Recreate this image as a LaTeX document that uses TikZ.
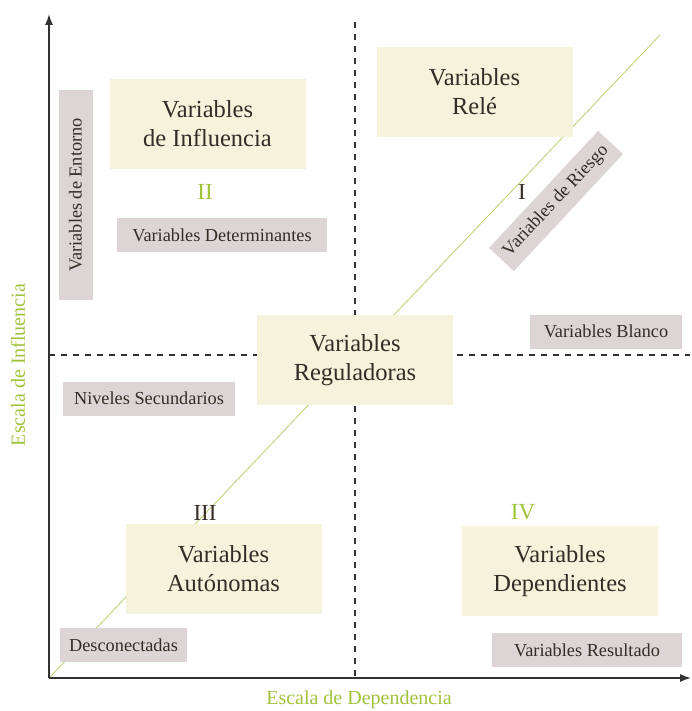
\documentclass[tikz,border=0pt]{standalone}
\usepackage{fontspec}
\setmainfont{Liberation Serif}
\usepackage{tikz}
\usetikzlibrary{backgrounds,arrows.meta}
\definecolor{xbeige}{RGB}{245,243,220}
\definecolor{xgray}{RGB}{221,213,213}
\definecolor{xgreen}{RGB}{160,195,60}
\definecolor{xline}{RGB}{185,208,110}
\definecolor{xtext}{RGB}{52,44,38}
\definecolor{xaxis}{RGB}{50,50,50}

\begin{document}
\begin{tikzpicture}[x=1pt, y=-1pt,
		bigbox/.style={rectangle, fill=xbeige, inner sep=0pt, minimum width=196pt, minimum height=90pt, align=center, text=xtext, font=\fontsize{24.5}{29}\selectfont},
		smallbox/.style={rectangle, fill=xgray, inner sep=0pt, minimum height=34pt, text=xtext, font=\fontsize{18.3}{22}\selectfont},
		numlabel/.style={font=\fontsize{23}{27}\selectfont},
		axislabel/.style={text=xgreen, font=\fontsize{20}{24}\selectfont}]
			\useasboundingbox (0,0) rectangle (691,711);
			\def \ox {49}
			\def \oy {678}
			\coordinate (orig) at (\ox, \oy);
			\coordinate (ytip) at (\ox, 14);
			\coordinate (xtip) at (691, \oy);
			\coordinate (diagend) at (660, 35);
			\coordinate (vtop) at (355, 22);
			\coordinate (vbot) at (355, \oy);
			\coordinate (hleft) at (\ox, 355);
			\coordinate (hright) at (690, 355);
			% cuadrantes
			\node[bigbox] at (207.5, 124) (influ) {Variables\\de Influencia};
			\node[bigbox] at (474.5, 92) (rele) {Variables\\Relé};
			\node[bigbox] at (355, 360) (regul) {Variables\\Reguladoras};
			\node[bigbox] at (223.5, 569) (auton) {Variables\\Autónomas};
			\node[bigbox] at (560, 571) (depen) {Variables\\Dependientes};
			% etiquetas grises
			\node[smallbox, minimum width=210pt, rotate=90] at (75.5, 195) (entorno) {Variables de Entorno};
			\node[smallbox, minimum width=210pt] at (222, 235) (determ) {Variables Determinantes};
			\node[smallbox, minimum width=160pt, rotate=47] at (556, 201) (riesgo) {Variables de Riesgo};
			\node[smallbox, minimum width=152pt] at (606, 331.5) (blanco) {Variables Blanco};
			\node[smallbox, minimum width=172pt] at (149, 398.5) (secund) {Niveles Secundarios};
			\node[smallbox, minimum width=127pt] at (123.5, 645) (descon) {Desconectadas};
			\node[smallbox, minimum width=190pt] at (587, 650) (result) {Variables Resultado};
			% numeros
			\node[numlabel, text=xgreen] at (205, 192) (qII) {II};
			\node[numlabel, text=xtext] at (522, 192) (qI) {I};
			\node[numlabel, text=xtext] at (205, 513) (qIII) {III};
			\node[numlabel, text=xgreen] at (523, 512) (qIV) {IV};
			% ejes
			\node[axislabel, rotate=90] at (18, 365) (ylab) {Escala de Influencia};
			\node[axislabel] at (359, 700) (xlab) {Escala de Dependencia};
			\begin{scope}[on background layer]
				\draw[xline, line width=0.8pt] (orig) -- (diagend);
				\draw[xaxis, dash pattern=on 6pt off 6pt, line width=1.1pt] (vtop) -- (vbot);
				\draw[xaxis, dash pattern=on 6pt off 6pt, line width=1.1pt] (hleft) -- (hright);
				\draw[-{Latex[length=11pt,width=8pt]}, xaxis, line width=1.4pt] (orig) -- (ytip);
				\draw[-{Latex[length=11pt,width=8pt]}, xaxis, line width=1.4pt] (orig) -- (xtip);
			\end{scope}
		\end{tikzpicture}
\end{document}
